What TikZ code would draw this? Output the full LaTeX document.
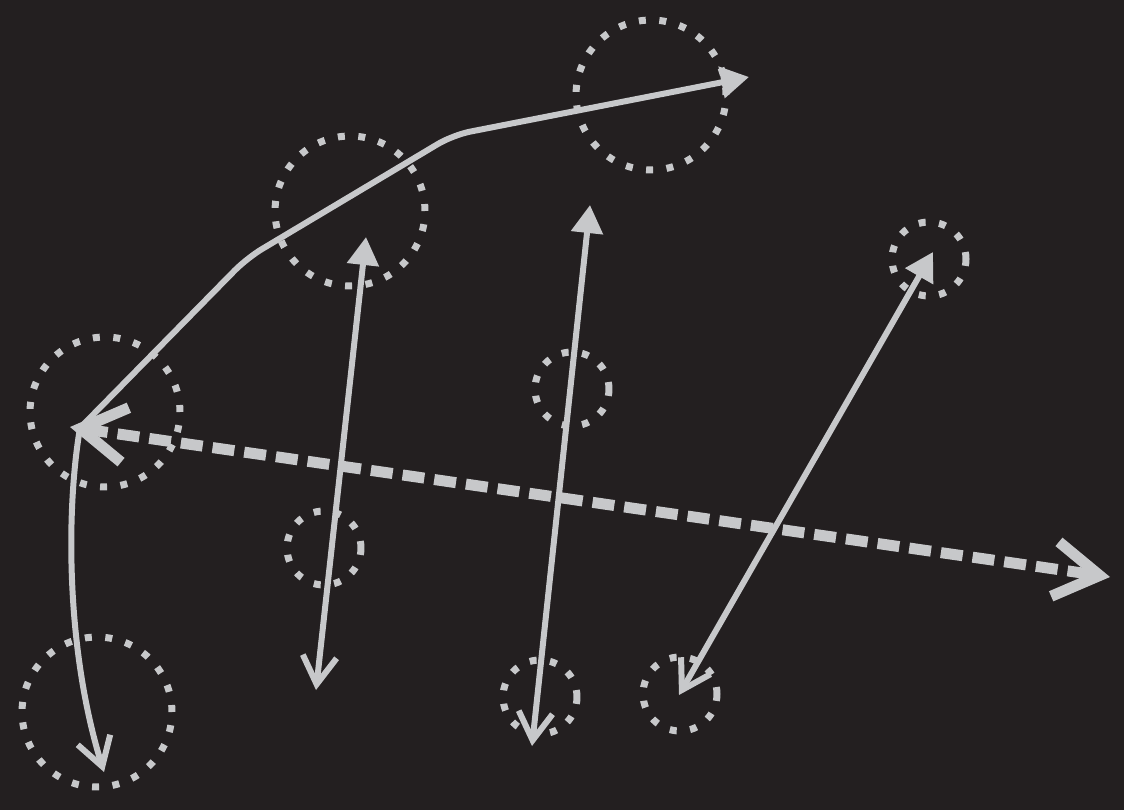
\documentclass[tikz,border=0pt]{standalone}
\definecolor{ringbg}{RGB}{35,31,32}
\definecolor{ringgray}{RGB}{199,200,202}
\usetikzlibrary{arrows.meta,positioning}
\tikzset{
  ringbarb/.tip={Straight Barb[length=0.56cm,width=0.68cm]},
  ringhead/.tip={Triangle[length=0.56cm,width=0.62cm]},
  widebarb/.tip={Straight Barb[length=0.9cm,width=1.1cm]}
}

\begin{document}
\begin{tikzpicture}[x=0.02cm,y=-0.02cm,
      bigring/.style={circle,minimum size=3.0cm,inner sep=0pt,outer sep=0pt,
                      draw=ringgray,line width=0.14cm,dash pattern=on 0.14cm off 0.27cm},
      smallring/.style={bigring,minimum size=1.48cm},
      link/.style={draw=ringgray,line width=0.12cm,ringbarb-ringhead},
      longlink/.style={draw=ringgray,line width=0.22cm,
                       dash pattern=on 0.44cm off 0.2cm,widebarb-widebarb}]

      \fill[ringbg] (0,0) rectangle (1124,810);

      % Kreise
      \node[bigring]   (ringA) at (105,412) {};
      \node[bigring]   (ringB) at (350,211) {};
      \node[bigring]   (ringC) at (651,95)  {};
      \node[bigring]   (ringD) at (97,712)  {};
      \node[smallring] (dotA)  at (929,259) {};
      \node[smallring] (dotB)  at (572,389) {};
      \node[smallring] (dotC)  at (324,548) {};
      \node[smallring] (dotD)  at (540,697) {};
      \node[smallring] (dotE)  at (680,694) {};

      % Endpunkte
      \coordinate (hub)    at (80,428);
      \coordinate (bendA)  at (247,258);
      \coordinate (bendB)  at (453,135);
      \coordinate (topend) at (749,77);
      \coordinate (lowend) at (104,772);
      \coordinate (bA) at (316,690);
      \coordinate (bB) at (366,237);
      \coordinate (cA) at (532,746);
      \coordinate (cB) at (590,205);
      \coordinate (dA) at (679,695);
      \coordinate (dB) at (933,252);
      \coordinate (eA) at (70,427);
      \coordinate (eB) at (1110,577);

      % Pfeile
      \draw[draw=ringgray,line width=0.12cm,-ringhead,rounded corners=0.35cm]
        (hub) -- (bendA) -- (bendB) -- (topend);
      \draw[draw=ringgray,line width=0.12cm,-ringbarb]
        (hub) .. controls (66,510) and (66,650) .. (lowend);
      \draw[link] (bA) -- (bB);
      \draw[link] (cA) -- (cB);
      \draw[link] (dA) -- (dB);
      \draw[longlink] (eA) -- (eB);
    \end{tikzpicture}
\end{document}
